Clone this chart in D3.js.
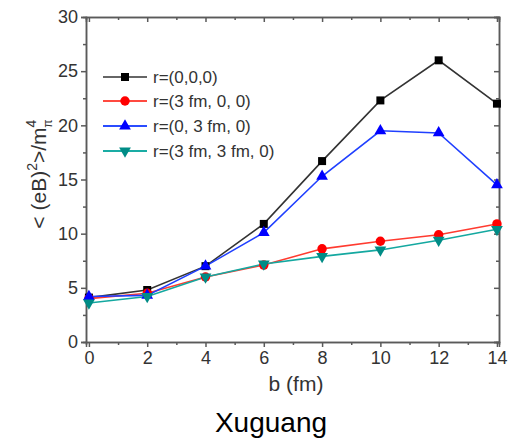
<!DOCTYPE html>
<html>
<head>
<meta charset="utf-8">
<script src="https://cdn.jsdelivr.net/npm/d3@7"></script>
<style>
  body { margin: 0; background: #fff; }
  svg { display: block; font-family: "Liberation Sans", Arial, sans-serif; }
</style>
</head>
<body>
<svg id="chart" width="508" height="441"></svg>
<script>
// impact parameter b (fm)
const bValues = [0, 2, 4, 6, 8, 10, 12, 14];
const r000 = [4.1, 4.8, 7.0, 10.9, 16.7, 22.3, 26.0, 22.0];
const r300 = [4.0, 4.5, 6.0, 7.1, 8.6, 9.3, 9.9, 10.9];
const r030 = [4.2, 4.3, 7.0, 10.1, 15.3, 19.5, 19.3, 14.5];
const r330 = [3.6, 4.2, 6.0, 7.2, 7.9, 8.5, 9.4, 10.4];
const seriesNames = ['r=(0,0,0)', 'r=(3 fm, 0, 0)', 'r=(0, 3 fm, 0)', 'r=(3 fm, 3 fm, 0)'];
const xTicks = [0, 2, 4, 6, 8, 10, 12, 14];
const yTicks = [0, 5, 10, 15, 20, 25, 30];

const series = [
  { name: seriesNames[0], values: r000, line: '#333333', key: '#666666', fill: '#000000', symbol: d3.symbolSquare, size: 64 },
  { name: seriesNames[1], values: r300, line: '#ff3b30', key: '#ff4a40', fill: '#ff0000', symbol: d3.symbolCircle, size: 70 },
  { name: seriesNames[2], values: r030, line: '#2040ff', key: '#2a4cff', fill: '#0000ff', symbol: d3.symbolTriangle, size: 60 },
  { name: seriesNames[3], values: r330, line: '#14a8a0', key: '#1aaca4', fill: '#008c86', symbol: d3.symbolTriangle, size: 60, flip: true }
];

const svg = d3.select('#chart');
const x = d3.scaleLinear().domain([-0.1, 14.07]).range([86, 499]);
const y = d3.scaleLinear().domain([0, 30]).range([342, 17]);
const axisColor = '#5a5a5a';
const textColor = '#333';

const xMinor = d3.range(1, 14, 2);
const yMinor = d3.range(2.5, 30, 5);

// bottom axis (outward ticks)
const gx = svg.append('g').attr('transform', `translate(0,${y(0)})`);
gx.call(d3.axisBottom(x).tickValues(xTicks).tickSize(5).tickPadding(4).tickFormat(d3.format('d')));
gx.append('g').call(d3.axisBottom(x).tickValues(xMinor).tickSize(3).tickFormat(''));

// left axis
const gy = svg.append('g').attr('transform', `translate(${x.range()[0]},0)`);
gy.call(d3.axisLeft(y).tickValues(yTicks).tickSize(5).tickPadding(3).tickFormat(d3.format('d')));
gy.append('g').call(d3.axisLeft(y).tickValues(yMinor).tickSize(3).tickFormat(''));

// top axis (inward ticks)
const gt = svg.append('g').attr('transform', `translate(0,${y(30)})`);
gt.call(d3.axisBottom(x).tickValues(xTicks).tickSize(5).tickFormat(''));
gt.append('g').call(d3.axisBottom(x).tickValues(xMinor).tickSize(3).tickFormat(''));

// right axis (inward ticks)
const gr = svg.append('g').attr('transform', `translate(${x.range()[1]},0)`);
gr.call(d3.axisLeft(y).tickValues(yTicks).tickSize(5).tickFormat(''));
gr.append('g').call(d3.axisLeft(y).tickValues(yMinor).tickSize(3).tickFormat(''));

svg.selectAll('.domain, .tick line')
  .attr('stroke', axisColor)
  .attr('stroke-width', 1.5);
svg.selectAll('.tick text')
  .attr('fill', textColor)
  .style('font-size', '18px')
  .style('font-family', '"Liberation Sans", Arial, sans-serif');

// series lines and markers
const line = d3.line().x((d, i) => x(bValues[i])).y(d => y(d));

series.forEach(s => {
  svg.append('path')
    .datum(s.values)
    .attr('d', line)
    .attr('fill', 'none')
    .attr('stroke', s.line)
    .attr('stroke-width', 1.6);
});

series.forEach(s => {
  svg.append('g').selectAll('path')
    .data(s.values)
    .enter()
    .append('path')
    .attr('d', d3.symbol().type(s.symbol).size(s.size))
    .attr('transform', (d, i) => `translate(${x(bValues[i])},${y(d)})${s.flip ? ' rotate(180)' : ''}`)
    .attr('fill', s.fill);
});

// legend
const legend = svg.append('g');
const legendY = [77, 101, 126, 151];
series.forEach((s, i) => {
  const row = legend.append('g').attr('transform', `translate(0,${legendY[i]})`);
  row.append('line')
    .attr('x1', 103).attr('x2', 147)
    .attr('stroke', s.key)
    .attr('stroke-width', 2);
  row.append('path')
    .attr('d', d3.symbol().type(s.symbol).size(s.size))
    .attr('transform', `translate(125,0)${s.flip ? ' rotate(180)' : ''}`)
    .attr('fill', s.fill);
  row.append('text')
    .attr('x', 153).attr('y', 6)
    .attr('fill', textColor)
    .style('font-size', '17px')
    .text(s.name);
});

// axis titles
svg.append('text')
  .attr('x', 296).attr('y', 391)
  .attr('text-anchor', 'middle')
  .attr('fill', textColor)
  .style('font-size', '21px')
  .text('b (fm)');

const yTitle = svg.append('text')
  .attr('transform', 'translate(46,174) rotate(-90)')
  .attr('text-anchor', 'middle')
  .attr('fill', textColor)
  .style('font-size', '21px');
yTitle.append('tspan').text('< (eB)');
yTitle.append('tspan').attr('dy', -9).style('font-size', '14px').text('2');
yTitle.append('tspan').attr('dy', 9).text('>/m');
yTitle.append('tspan').attr('dy', -10).style('font-size', '14px').text('4');
yTitle.append('tspan').attr('dx', -8).attr('dy', 16).style('font-size', '12px').text('\u03C0');

// caption
svg.append('text')
  .attr('x', 271).attr('y', 432)
  .attr('text-anchor', 'middle')
  .attr('fill', '#000')
  .style('font-size', '28px')
  .text('Xuguang');
</script>
</body>
</html>
